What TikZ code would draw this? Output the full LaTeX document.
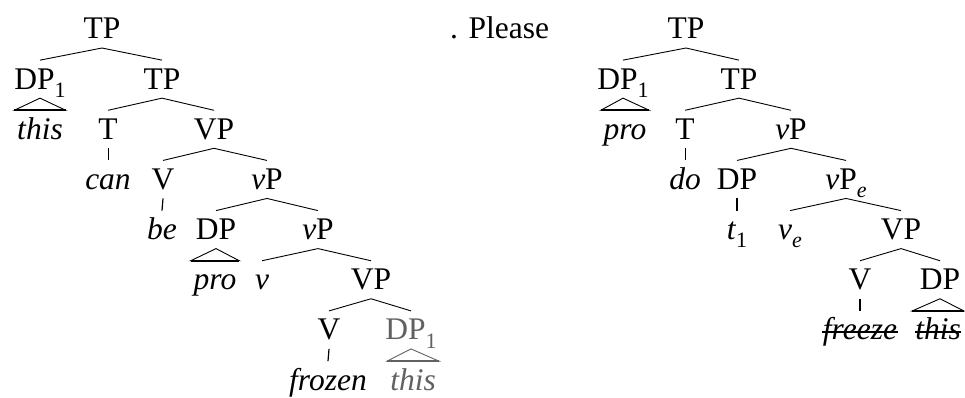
\documentclass[tikz,border=0pt]{standalone}
\usepackage{fontspec}
\setmainfont{Liberation Serif}
\usetikzlibrary{calc}
\newcommand{\sbs}[1]{\raisebox{-0.26em}{\fontsize{22}{24}\selectfont #1}}
\begin{document}
\begin{tikzpicture}[x=1pt,y=-1pt,
  every node/.style={font=\rmfamily\fontsize{31.5}{36}\selectfont},
  tn/.style={inner sep=0pt, outer sep=0pt, text height=29pt, text depth=9pt, anchor=base},
  br/.style={line width=0.9pt},
  vl/.style={line width=1.2pt},
  tri/.style={line width=0.9pt},
  trib/.style={line width=1.6pt},
  strike/.style={line width=1.6pt}]
\useasboundingbox (0,0) rectangle (965,398);
% ---------------- left tree ----------------
\node[tn] (L1) at (102,39) {TP};
\node[tn] (L2) at (40,89.15) {DP\sbs{1}};
\node[tn] (L3) at (162,89.15) {TP};
\node[tn] (L4) at (40,139.3) {\textit{this}};
\node[tn] (L5) at (108,139.3) {T};
\node[tn] (L6) at (214,139.3) {VP};
\node[tn] (L7) at (108,189.45) {\textit{can}};
\node[tn] (L8) at (163,189.45) {V};
\node[tn] (L9) at (267,189.45) {\textit{v}P};
\node[tn] (L10) at (162,239.6) {\textit{be}};
\node[tn] (L11) at (216,239.6) {DP};
\node[tn] (L12) at (318,239.6) {\textit{v}P};
\node[tn] (L13) at (215,289.75) {\textit{pro}};
\node[tn] (L14) at (262,289.75) {\textit{v}};
\node[tn] (L15) at (371,289.75) {VP};
\node[tn] (L16) at (329,339.9) {V};
\node[tn, text=black!62] (L17) at (411,339.9) {DP\sbs{1}};
\node[tn] (L18) at (328,390.05) {\textit{frozen}};
\node[tn, text=black!62] (L19) at (413,390.05) {\textit{this}};

\draw[br] (L2.north) -- (L1.south) -- (L3.north);
\draw[br] (L5.north) -- (L3.south) -- (L6.north);
\draw[br] (L8.north) -- (L6.south) -- (L9.north);
\draw[br] (L11.north) -- (L9.south) -- (L12.north);
\draw[br] (L14.north) -- (L12.south) -- (L15.north);
\draw[br] (L16.north) -- (L15.south) -- (L17.north);
\draw[br] (L5.south) -- (L7.north);
\draw[vl] (L8.south) -- (L10.north);
\draw[vl] (L16.south) -- (L18.north);
\draw[tri] (L2.south) -- ($(L4.north west)+(-3,0)$) -- ($(L4.north east)+(3,0)$) -- cycle;
\draw[trib] ($(L4.north west)+(-3,0)$) -- ($(L4.north east)+(3,0)$);
\draw[tri] (L11.south) -- ($(L13.north west)+(-3,0)$) -- ($(L13.north east)+(3,0)$) -- cycle;
\draw[trib] ($(L13.north west)+(-3,0)$) -- ($(L13.north east)+(3,0)$);
\draw[tri, draw=black!62] (L17.south) -- ($(L19.north west)+(-3,0)$) -- ($(L19.north east)+(3,0)$) -- cycle;
\draw[trib, draw=black!62] ($(L19.north west)+(-3,0)$) -- ($(L19.north east)+(3,0)$);

% ---------------- text between ----------------
\node[inner sep=0pt, anchor=base west] (PL) at (450,39) {. Please};

% ---------------- right tree ----------------
\node[tn] (R1) at (686,39) {TP};
\node[tn] (R2) at (623,89.15) {DP\sbs{1}};
\node[tn] (R3) at (739,89.15) {TP};
\node[tn] (R4) at (625,139.3) {\textit{pro}};
\node[tn] (R5) at (685,139.3) {T};
\node[tn] (R6) at (791,139.3) {\textit{v}P};
\node[tn] (R7) at (685,189.45) {\textit{do}};
\node[tn] (R8) at (737,189.45) {DP};
\node[tn] (R9) at (846,189.45) {\textit{v}P\sbs{\textit{e}}};
\node[tn] (R10) at (737,239.6) {\textit{t}\sbs{1}};
\node[tn] (R11) at (790,239.6) {\textit{v}\sbs{\textit{e}}};
\node[tn] (R12) at (901,239.6) {VP};
\node[tn] (R13) at (860,289.75) {V};
\node[tn] (R14) at (940,289.75) {DP};
\node[tn] (R15) at (860,339.9) {\textit{freeze}};
\node[tn] (R16) at (938,339.9) {\textit{this}};

\draw[br] (R2.north) -- (R1.south) -- (R3.north);
\draw[br] (R5.north) -- (R3.south) -- (R6.north);
\draw[br] (R8.north) -- (R6.south) -- (R9.north);
\draw[br] (R11.north) -- (R9.south) -- (R12.north);
\draw[br] (R13.north) -- (R12.south) -- (R14.north);
\draw[br] (R5.south) -- (R7.north);
\draw[vl] (R8.south) -- (R10.north);
\draw[vl] (R13.south) -- (R15.north);
\draw[tri] (R2.south) -- ($(R4.north west)+(-3,0)$) -- ($(R4.north east)+(3,0)$) -- cycle;
\draw[trib] ($(R4.north west)+(-3,0)$) -- ($(R4.north east)+(3,0)$);
\draw[tri] (R14.south) -- ($(R16.north west)+(-3,0)$) -- ($(R16.north east)+(3,0)$) -- cycle;
\draw[trib] ($(R16.north west)+(-3,0)$) -- ($(R16.north east)+(3,0)$);
% strike-through of the elided words
\draw[strike] ($(R15.base west)+(-1,-8)$) -- ($(R15.base east)+(1,-8)$);
\draw[strike] ($(R16.base west)+(0,-8)$) -- ($(R16.base east)+(0,-8)$);
\end{tikzpicture}
\end{document}
